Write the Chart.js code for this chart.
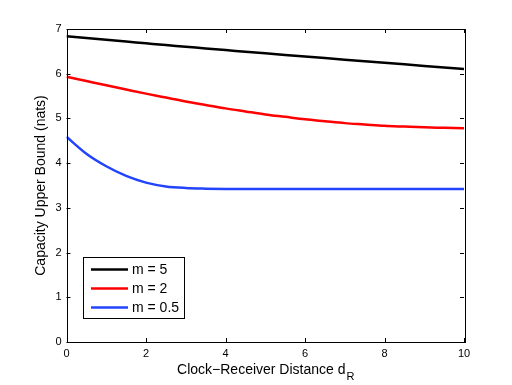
<!DOCTYPE html>
<html lang="en">
<head>
    <meta charset="UTF-8">
    <title>Capacity Upper Bound</title>
    <script src="https://cdn.jsdelivr.net/npm/chart.js@4.4.1/dist/chart.umd.min.js"></script>
    <style>
        html, body { margin: 0; padding: 0; background: #fff; }
        #wrap { width: 512px; height: 385px; }
    </style>
</head>
<body>
    <div id="wrap"><canvas id="cap"></canvas></div>
    <script>
        // distance d_R
        const distances = [0, 0.5, 1, 1.5, 2, 2.5, 3, 3.5, 4, 4.5, 5, 5.5, 6, 6.5, 7, 7.5, 8, 8.5, 9, 9.5, 10];
        const m5 = [6.84, 6.80, 6.76, 6.72, 6.68, 6.64, 6.605, 6.565, 6.53, 6.49, 6.455, 6.42, 6.385, 6.35, 6.315, 6.28, 6.245, 6.21, 6.175, 6.14, 6.105];
        const m2 = [5.93, 5.835, 5.74, 5.647, 5.555, 5.467, 5.38, 5.302, 5.225, 5.157, 5.09, 5.035, 4.98, 4.937, 4.895, 4.865, 4.835, 4.817, 4.80, 4.79, 4.78];
        const m05 = [4.59, 4.21, 3.93, 3.715, 3.565, 3.48, 3.445, 3.43, 3.422, 3.42, 3.42, 3.42, 3.42, 3.42, 3.42, 3.42, 3.42, 3.42, 3.42, 3.42, 3.42];
        const seriesLabels = ['m = 5', 'm = 2', 'm = 0.5'];
        const seriesColors = ['#000000', '#ff0000', '#2244ff'];
        const xTicks = [0, 2, 4, 6, 8, 10];
        const yTicks = [0, 1, 2, 3, 4, 5, 6, 7];

        const FONT = '"Liberation Sans", Arial, Helvetica, sans-serif';

        function pts(ys) {
            return distances.map((d, i) => ({ x: d, y: ys[i] }));
        }

        // box, inward ticks, axis titles and legend in the MATLAB look
        const matlabAxes = {
            id: 'matlabAxes',
            afterDraw(chart) {
                const ctx = chart.ctx;
                const a = chart.chartArea;
                const xs = chart.scales.x, ys = chart.scales.y;
                ctx.save();
                ctx.strokeStyle = '#000';
                ctx.lineWidth = 1;
                ctx.strokeRect(Math.round(a.left) + 0.5, Math.round(a.top) + 0.5,
                    Math.round(a.right - a.left), Math.round(a.bottom - a.top));
                ctx.beginPath();
                xTicks.forEach(v => {
                    const px = Math.round(xs.getPixelForValue(v)) + 0.5;
                    ctx.moveTo(px, a.bottom); ctx.lineTo(px, a.bottom - 4);
                    ctx.moveTo(px, a.top); ctx.lineTo(px, a.top + 4);
                });
                yTicks.forEach(v => {
                    const py = Math.round(ys.getPixelForValue(v)) + 0.5;
                    ctx.moveTo(a.left, py); ctx.lineTo(a.left + 4, py);
                    ctx.moveTo(a.right, py); ctx.lineTo(a.right - 4, py);
                });
                ctx.stroke();

                // x title with subscript
                ctx.fillStyle = '#000';
                ctx.textBaseline = 'alphabetic';
                const main = 'Clock\u2212Receiver Distance d';
                ctx.font = '14px ' + FONT;
                const wMain = ctx.measureText(main).width;
                ctx.font = '11px ' + FONT;
                const wSub = ctx.measureText('R').width;
                const cx = (a.left + a.right) / 2;
                const sx = cx - (wMain + wSub) / 2;
                ctx.font = '14px ' + FONT;
                ctx.textAlign = 'left';
                ctx.fillText(main, sx, 374);
                ctx.font = '11px ' + FONT;
                ctx.fillText('R', sx + wMain + 1, 380);

                // y title
                ctx.save();
                ctx.translate(45, (a.top + a.bottom) / 2);
                ctx.rotate(-Math.PI / 2);
                ctx.font = '14px ' + FONT;
                ctx.textAlign = 'center';
                ctx.fillText('Capacity Upper Bound (nats)', 0, 0);
                ctx.restore();

                // legend
                const lx = 83.5, ly = 257.5, lw = 101, lh = 61;
                ctx.fillStyle = '#fff';
                ctx.fillRect(lx, ly, lw, lh);
                ctx.strokeStyle = '#000';
                ctx.lineWidth = 1;
                ctx.strokeRect(lx, ly, lw, lh);
                ctx.font = '14px ' + FONT;
                ctx.textAlign = 'left';
                ctx.textBaseline = 'middle';
                chart.data.datasets.forEach((ds, i) => {
                    const ry = 269.5 + i * 19;
                    ctx.strokeStyle = ds.borderColor;
                    ctx.lineWidth = 2.5;
                    ctx.beginPath();
                    ctx.moveTo(91, ry);
                    ctx.lineTo(128, ry);
                    ctx.stroke();
                    ctx.fillStyle = '#000';
                    ctx.fillText(ds.label, 132, ry + 1);
                });
                ctx.restore();
            }
        };

        const ctx = document.getElementById('cap').getContext('2d');
        new Chart(ctx, {
            type: 'line',
            data: {
                datasets: [m5, m2, m05].map((ys, i) => ({
                    label: seriesLabels[i],
                    data: pts(ys),
                    borderColor: seriesColors[i],
                    backgroundColor: seriesColors[i],
                    borderWidth: 2.5,
                    pointRadius: 0,
                    cubicInterpolationMode: 'monotone',
                    fill: false
                }))
            },
            options: {
                responsive: true,
                maintainAspectRatio: false,
                animation: false,
                layout: { padding: { top: 29, right: 48, left: 0, bottom: 0 } },
                plugins: {
                    legend: { display: false },
                    tooltip: { enabled: false }
                },
                scales: {
                    x: {
                        type: 'linear',
                        min: 0,
                        max: 10,
                        afterBuildTicks: s => { s.ticks = xTicks.map(v => ({ value: v })); },
                        afterFit: s => { s.height = 43; },
                        grid: { display: false, drawTicks: false },
                        border: { display: false },
                        ticks: { color: '#000', padding: 5, maxRotation: 0, font: { family: FONT, size: 11 } }
                    },
                    y: {
                        min: 0,
                        max: 7,
                        afterBuildTicks: s => { s.ticks = yTicks.map(v => ({ value: v })); },
                        afterFit: s => { s.width = 66.5; },
                        grid: { display: false, drawTicks: false },
                        border: { display: false },
                        ticks: { color: '#000', padding: 5, font: { family: FONT, size: 11 } }
                    }
                }
            },
            plugins: [matlabAxes]
        });
    </script>
</body>
</html>
